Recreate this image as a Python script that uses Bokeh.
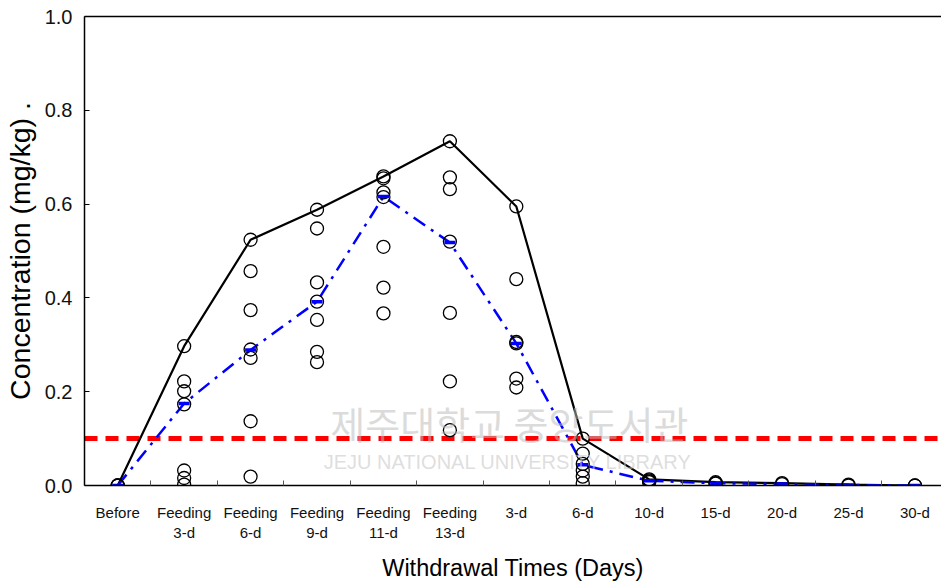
from bokeh.plotting import figure
from bokeh.models import FixedTicker, LinearAxis, Label, ColumnDataSource, Range1d
from bokeh.embed import file_html
from bokeh.resources import INLINE

# ---------------- data ----------------
categories = ["Before", "Feeding\n3-d", "Feeding\n6-d", "Feeding\n9-d", "Feeding\n11-d",
              "Feeding\n13-d", "3-d", "6-d", "10-d", "15-d", "20-d", "25-d", "30-d"]
max_values = [0.0, 0.297, 0.524, 0.588, 0.659, 0.734, 0.595, 0.100, 0.013, 0.007, 0.005, 0.002, 0.0]
mean_values = [0.0, 0.175, 0.289, 0.392, 0.616, 0.518, 0.303, 0.044, 0.010, 0.005, 0.003, 0.001, 0.0]

before_pts = [0.0, 0.0, 0.0]
feed3_pts = [0.297, 0.222, 0.201, 0.173, 0.032, 0.016, 0.002]
feed6_pts = [0.524, 0.457, 0.374, 0.290, 0.272, 0.137, 0.019]
feed9_pts = [0.588, 0.548, 0.433, 0.392, 0.353, 0.285, 0.263]
feed11_pts = [0.659, 0.655, 0.625, 0.615, 0.509, 0.422, 0.367]
feed13_pts = [0.734, 0.657, 0.632, 0.520, 0.368, 0.222, 0.118]
w3_pts = [0.595, 0.440, 0.306, 0.303, 0.228, 0.209]
w6_pts = [0.100, 0.068, 0.046, 0.032, 0.019, 0.005]
w10_pts = [0.013, 0.011, 0.009, 0.007]
w15_pts = [0.007, 0.005, 0.004]
w20_pts = [0.005, 0.003]
w25_pts = [0.002, 0.0]
w30_pts = [0.0, 0.0]

limit_value = 0.1
y_ticks = [0.0, 0.2, 0.4, 0.6, 0.8, 1.0]
x_title = "Withdrawal Times (Days)"
y_title = "Concentration (mg/kg) ."
wm_kr = "제주대학교 중앙도서관"
wm_en = "JEJU NATIONAL UNIVERSITY LIBRARY"

all_pts = [before_pts, feed3_pts, feed6_pts, feed9_pts, feed11_pts, feed13_pts,
           w3_pts, w6_pts, w10_pts, w15_pts, w20_pts, w25_pts, w30_pts]

xs = list(range(len(categories)))
sx, sy = [], []
for i, pts in enumerate(all_pts):
    for v in pts:
        sx.append(i)
        sy.append(v)

FONT = "Liberation Sans"
X_END = 12.4

p = figure(width=941, height=584, output_backend="svg", toolbar_location=None,
           x_range=Range1d(-0.5, X_END), y_range=Range1d(0, 1.0),
           min_border_left=83, min_border_right=0, min_border_top=16, min_border_bottom=99,
           background_fill_color="white", border_fill_color="white")
p.grid.visible = False
p.outline_line_color = None

# y axis
ya = p.yaxis[0]
ya.ticker = FixedTicker(ticks=y_ticks, minor_ticks=[])
ya.major_label_overrides = {t: f"{t:.1f}" for t in y_ticks}
ya.major_tick_in = 5
ya.major_tick_out = 0
ya.major_tick_line_color = "black"
ya.major_tick_line_width = 1
ya.axis_line_width = 1.5
ya.axis_line_color = "black"
ya.major_label_standoff = 12
ya.major_label_text_font = FONT
ya.major_label_text_font_size = "20px"
ya.major_label_text_color = "#111111"
ya.axis_label = y_title
ya.axis_label_text_font = FONT
ya.axis_label_text_font_size = "28.5px"
ya.axis_label_text_font_style = "normal"
ya.axis_label_standoff = 6
ya.axis_label_text_color = "black"

# x axis
xa = p.xaxis[0]
xa.ticker = FixedTicker(ticks=xs, minor_ticks=[i + 0.5 for i in range(len(categories) - 1)])
xa.major_label_overrides = {i: c for i, c in enumerate(categories)}
xa.major_tick_line_color = None
xa.minor_tick_in = 5
xa.minor_tick_out = 0
xa.minor_tick_line_color = "#555555"
xa.axis_line_width = 1.5
xa.axis_line_color = "black"
xa.major_label_standoff = 12
xa.major_label_text_font = FONT
xa.major_label_text_font_size = "15px"
xa.major_label_text_color = "#111111"
xa.axis_label = x_title
xa.axis_label_text_font = FONT
xa.axis_label_text_font_size = "23.5px"
xa.axis_label_text_font_style = "normal"
xa.axis_label_standoff = 11
xa.axis_label_text_color = "black"

# top border
top = LinearAxis(ticker=FixedTicker(ticks=[]), major_label_text_font_size="0px",
                 major_tick_line_color=None, minor_tick_line_color=None,
                 axis_line_width=1.5, axis_line_color="black", major_label_standoff=0)
p.add_layout(top, "above")

# watermark
p.add_layout(Label(x=3.2, y=0.135, text=wm_kr, text_font="Noto Sans CJK KR",
                   text_font_size="38px", text_color="#bdbdbd", text_alpha=0.55,
                   text_baseline="middle"))
p.add_layout(Label(x=3.1, y=0.05, text=wm_en, text_font=FONT,
                   text_font_size="20px", text_color="#c8c8c8", text_alpha=0.6,
                   text_baseline="middle"))

# limit line
p.line([-0.5, X_END], [limit_value, limit_value], line_color="#ff0000", line_width=5,
       line_dash="13 8")

src_line = ColumnDataSource(dict(x=xs, mx=max_values, mn=mean_values))
p.line("x", "mx", source=src_line, line_color="black", line_width=2.2)
p.line("x", "mn", source=src_line, line_color="#0000ff", line_width=2.5,
       line_dash="14 7 3 7")

src_pts = ColumnDataSource(dict(x=sx, y=sy))
p.scatter("x", "y", source=src_pts, marker="circle", size=13, fill_color=None,
          line_color="black", line_width=1.3)

p.scatter("x", "mn", source=src_line, marker="dash", size=11, line_color="#0000ff",
          line_width=3.5)

open("out.html", "w").write(file_html(p, INLINE))
